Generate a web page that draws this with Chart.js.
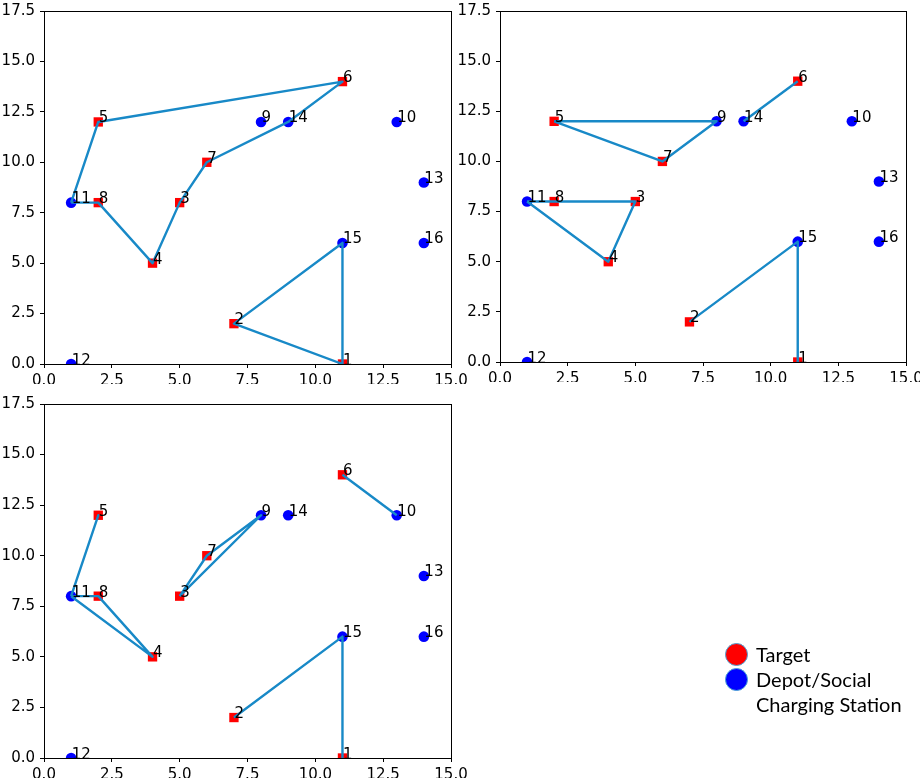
<!DOCTYPE html>
<html>
<head>
<meta charset="utf-8">
<script src="https://cdn.jsdelivr.net/npm/chart.js@4.4.1/dist/chart.umd.min.js"></script>
<style>
  html, body { margin: 0; padding: 0; background: #fff; }
  #wrap { position: relative; width: 920px; height: 782px; overflow: hidden; background: #fff; }
  canvas { position: absolute; left: 0; top: 0; }
  .leg { position: absolute; font-family: Lato, "Liberation Sans", sans-serif; font-size: 20px; color: #000; line-height: 25px; }
  .dot { position: absolute; width: 23px; height: 23px; border-radius: 50%; box-sizing: border-box; border: 1.5px solid #4aa3d6; }
</style>
</head>
<body>
<div id="wrap">
  <canvas id="c1" width="920" height="782"></canvas>
  <canvas id="c2" width="920" height="782"></canvas>
  <canvas id="c3" width="920" height="782"></canvas>
  <div class="dot" style="left:725px; top:643px; background:#ff0000;"></div>
  <div class="dot" style="left:725px; top:668px; background:#0000ff;"></div>
  <div class="leg" style="left:756px; top:642px;">Target</div>
  <div class="leg" style="left:756px; top:667px;">Depot/Social</div>
  <div class="leg" style="left:756px; top:692px;">Charging Station</div>
</div>
<script>
// ---- data ----
const nodeIds = [1, 2, 3, 4, 5, 6, 7, 8, 9, 10, 11, 12, 13, 14, 15, 16];
const nodeX   = [11, 7, 5, 4, 2, 11, 6, 2, 8, 13, 1, 1, 14, 9, 11, 14];
const nodeY   = [0, 2, 8, 5, 12, 14, 10, 8, 12, 12, 8, 0, 9, 12, 6, 6];
const targetIds = [1, 2, 3, 4, 5, 6, 7, 8];
const depotIds  = [9, 10, 11, 12, 13, 14, 15, 16];
const routesTopLeft    = [[11, 5, 6, 14, 7, 3, 4, 8, 11], [1, 2, 15, 1]];
const routesTopRight   = [[5, 9, 7, 5], [14, 6], [11, 8, 3, 4, 11], [2, 15, 1]];
const routesBottomLeft = [[11, 5, 11], [11, 8, 4, 11], [3, 7, 9, 3], [6, 10], [2, 15, 1]];
const xTicks = [0, 2.5, 5, 7.5, 10, 12.5, 15];
const yTicks = [0, 2.5, 5, 7.5, 10, 12.5, 15, 17.5];

// ---- styles ----
const LINE_COLOR = '#1889c7';
const RED = '#ff0000';
const BLUE = '#0000ff';
const TICK_FONT = { family: '"DejaVu Sans", sans-serif', size: 15 };
const LABEL_FONT = '15px "DejaVu Sans", sans-serif';

function pt(id) {
  const i = nodeIds.indexOf(id);
  return { x: nodeX[i], y: nodeY[i] };
}

const framePlugin = {
  id: 'frame',
  afterDraw(chart) {
    const { ctx, chartArea: a } = chart;
    ctx.save();
    ctx.strokeStyle = '#000';
    ctx.lineWidth = 1;
    ctx.strokeRect(Math.round(a.left) + 0.5, Math.round(a.top) + 0.5,
                   Math.round(a.right - a.left), Math.round(a.bottom - a.top));
    ctx.restore();
  }
};

const labelPlugin = {
  id: 'nodeLabels',
  afterDatasetsDraw(chart) {
    const { ctx, scales } = chart;
    ctx.save();
    ctx.font = LABEL_FONT;
    ctx.fillStyle = '#000';
    ctx.textAlign = 'left';
    ctx.textBaseline = 'alphabetic';
    nodeIds.forEach((id, i) => {
      const px = scales.x.getPixelForValue(nodeX[i]);
      const py = scales.y.getPixelForValue(nodeY[i]);
      ctx.fillText(String(id), px + 0.5, py + 0.5);
    });
    ctx.restore();
  }
};

function makeChart(canvasId, routes, box) {
  const Y_W = 44, X_H = 20;
  const datasets = [];
  routes.forEach(r => {
    datasets.push({
      data: r.map(pt),
      showLine: true,
      borderColor: LINE_COLOR,
      backgroundColor: LINE_COLOR,
      borderWidth: 2.4,
      borderJoinStyle: 'round',
      borderCapStyle: 'butt',
      pointRadius: 0,
      pointHoverRadius: 0,
      tension: 0,
      clip: 0
    });
  });
  datasets.push({
    data: targetIds.map(pt),
    showLine: false,
    pointStyle: 'rect',
    pointRadius: 6.6,
    pointHoverRadius: 6.6,
    backgroundColor: RED,
    borderColor: RED,
    borderWidth: 0,
    clip: 0
  });
  datasets.push({
    data: depotIds.map(pt),
    showLine: false,
    pointStyle: 'circle',
    pointRadius: 5.3,
    pointHoverRadius: 5.3,
    backgroundColor: BLUE,
    borderColor: BLUE,
    borderWidth: 0,
    clip: 0
  });

  const fitY = s => { s.width = Y_W; s.paddingTop = 0; s.paddingBottom = 0; };
  const fitX = s => { s.height = X_H; s.paddingLeft = 0; s.paddingRight = 0; };

  return new Chart(document.getElementById(canvasId), {
    type: 'scatter',
    data: { datasets },
    options: {
      responsive: false,
      animation: false,
      devicePixelRatio: 1,
      events: [],
      layout: {
        padding: {
          left: box.left - Y_W,
          top: box.top,
          right: 920 - box.right,
          bottom: 782 - box.bottom - X_H
        }
      },
      plugins: { legend: { display: false }, tooltip: { enabled: false } },
      scales: {
        x: {
          type: 'linear',
          min: 0, max: 15,
          afterBuildTicks: s => { s.ticks = xTicks.map(v => ({ value: v })); },
          afterFit: fitX,
          ticks: { font: TICK_FONT, color: '#000', padding: 4, maxRotation: 0, autoSkip: false,
                   callback: v => Number(v).toFixed(1) },
          grid: { display: true, drawOnChartArea: false, drawTicks: true, tickLength: 4, color: '#000', lineWidth: 1 },
          border: { display: false }
        },
        y: {
          type: 'linear',
          min: 0, max: 17.5,
          afterBuildTicks: s => { s.ticks = yTicks.map(v => ({ value: v })); },
          afterFit: fitY,
          ticks: { font: TICK_FONT, color: '#000', padding: 5, autoSkip: false,
                   callback: v => Number(v).toFixed(1) },
          grid: { display: true, drawOnChartArea: false, drawTicks: true, tickLength: 4, color: '#000', lineWidth: 1 },
          border: { display: false }
        }
      }
    },
    plugins: [framePlugin, labelPlugin]
  });
}

makeChart('c1', routesTopLeft,    { left: 44,  right: 451, top: 11,  bottom: 364 });
makeChart('c2', routesTopRight,   { left: 500, right: 906, top: 11,  bottom: 362 });
makeChart('c3', routesBottomLeft, { left: 44,  right: 451, top: 404, bottom: 758 });
</script>
</body>
</html>
